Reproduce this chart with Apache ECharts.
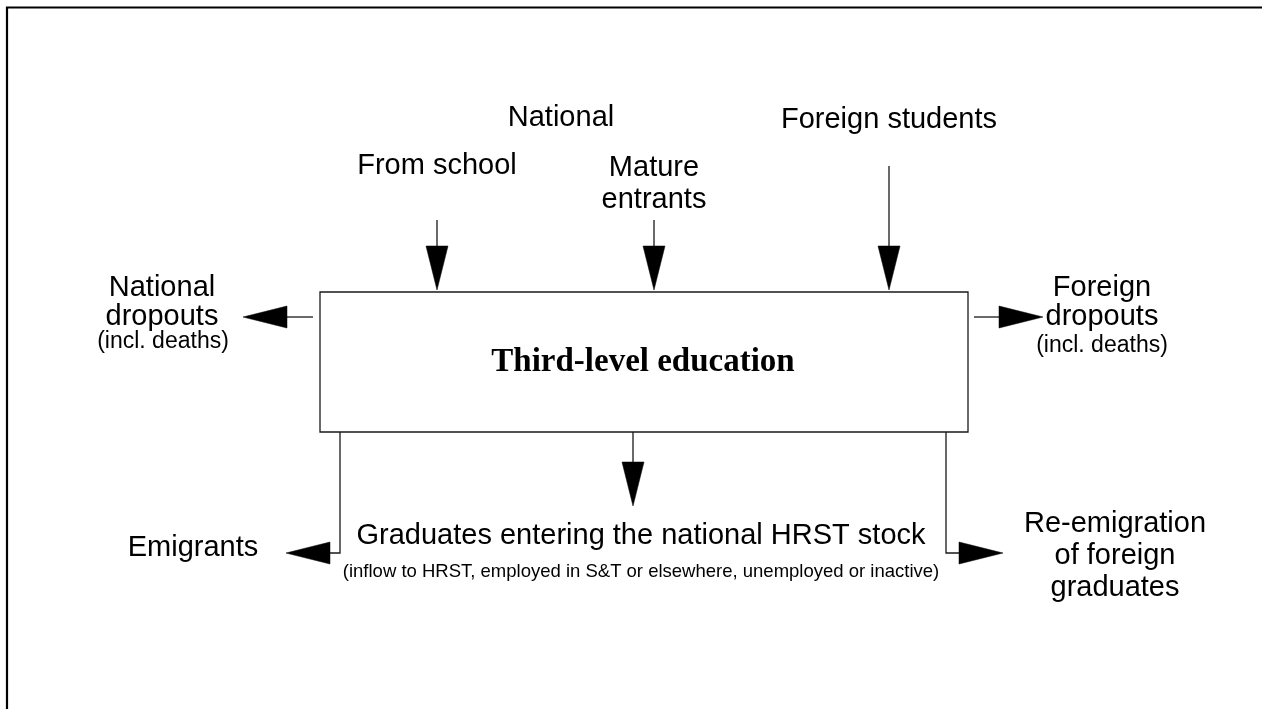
<!DOCTYPE html>
<html><head><meta charset="utf-8">
<script src="https://cdn.jsdelivr.net/npm/echarts@6/dist/echarts.min.js"></script>
<style>html,body{margin:0;padding:0;background:#fff}#c{width:1262px;height:709px}</style>
</head><body><div id="c"></div>
<script>
// ---- Diagram content ----
const boxTitle = 'Third-level education';
const inflowTexts = ['National', 'From school', 'Mature\nentrants', 'Foreign students'];
const sideTexts = ['National\ndropouts', 'Foreign\ndropouts'];
const noteTexts = ['(incl. deaths)', '(incl. deaths)'];
const outflowTexts = ['Emigrants', 'Graduates entering the national HRST stock', 'Re-emigration\nof foreign\ngraduates'];
const subNote = '(inflow to HRST, employed in S&T or elsewhere, unemployed or inactive)';

// ---- Layout in diagram units (x right, y down) ----
const inflowPos = [[561, 118], [437, 166], [654, 184], [889, 120]];
const sidePos = [[162, 302], [1102, 302]];
const notePos = [[163, 342], [1102, 346]];
const outflowPos = [[193, 548], [641, 536], [1115, 556]];
const subNotePos = [641, 572];
const boxRect = [320, 292, 968, 432];
const titlePos = [643, 362];
// arrow paths, last point is the tip
const arrowPaths = [
  [[437, 220], [437, 290]],
  [[654, 220], [654, 290]],
  [[889, 166], [889, 290]],
  [[313, 317], [243, 317]],
  [[974, 317], [1043, 317]],
  [[633, 432], [633, 506]],
  [[340, 432], [340, 553], [286, 553]],
  [[946, 432], [946, 553], [1003, 553]]
];
const framePath = [[1262, 7.5], [7, 7.5], [7, 709]];

const SANS = '"Liberation Sans", Arial, Helvetica, sans-serif';
const SERIF = '"Liberation Serif", "Times New Roman", serif';

const texts = [];
inflowTexts.forEach((t, i) => texts.push({t, p: inflowPos[i], size: 29, lh: 32, font: SANS, w: 'normal'}));
sideTexts.forEach((t, i) => texts.push({t, p: sidePos[i], size: 29, lh: 29, font: SANS, w: 'normal'}));
noteTexts.forEach((t, i) => texts.push({t, p: notePos[i], size: 23, lh: 24, font: SANS, w: 'normal'}));
outflowTexts.forEach((t, i) => texts.push({t, p: outflowPos[i], size: 29, lh: 32, font: SANS, w: 'normal'}));
texts.push({t: subNote, p: subNotePos, size: 18.5, lh: 20, font: SANS, w: 'normal'});
texts.push({t: boxTitle, p: titlePos, size: 33, lh: 34, font: SERIF, w: 'bold'});

const chart = echarts.init(document.getElementById('c'), null, {renderer: 'canvas'});

function arrowItem(params, api) {
  const pts = arrowPaths[params.dataIndex].map(p => api.coord(p));
  const n = pts.length;
  const tip = pts[n - 1], prev = pts[n - 2];
  const dx = tip[0] - prev[0], dy = tip[1] - prev[1];
  const len = Math.sqrt(dx * dx + dy * dy);
  const ux = dx / len, uy = dy / len;
  const headLen = 44, halfW = 11;
  const base = [tip[0] - ux * headLen, tip[1] - uy * headLen];
  const linePts = pts.slice(0, n - 1).concat([base]);
  return {
    type: 'group',
    children: [
      {type: 'polyline', shape: {points: linePts}, style: {stroke: '#1a1a1a', lineWidth: 1.3, fill: null}},
      {type: 'polygon', shape: {points: [tip, [base[0] - uy * halfW, base[1] + ux * halfW], [base[0] + uy * halfW, base[1] - ux * halfW]]},
        style: {fill: '#000', stroke: '#000', lineWidth: 0.5}}
    ]
  };
}

function textItem(params, api) {
  const d = texts[params.dataIndex];
  const c = api.coord(d.p);
  return {
    type: 'text',
    style: {
      text: d.t, x: c[0], y: c[1],
      font: d.w + ' ' + d.size + 'px ' + d.font,
      fontSize: d.size, fontFamily: d.font, fontWeight: d.w,
      lineHeight: d.lh,
      align: 'center', verticalAlign: 'middle',
      textAlign: 'center', textVerticalAlign: 'middle',
      fill: '#000'
    }
  };
}

chart.setOption({
  animation: false,
  backgroundColor: '#fff',
  grid: {left: 0, right: 0, top: 0, bottom: 0},
  xAxis: {type: 'value', min: 0, max: 1262, show: false},
  yAxis: {type: 'value', min: 0, max: 709, inverse: true, show: false},
  series: [
    {
      type: 'custom', name: 'frame', clip: false, silent: true,
      data: [0],
      renderItem: (params, api) => ({
        type: 'polyline', shape: {points: framePath.map(p => api.coord(p))},
        style: {stroke: '#000', lineWidth: 2.2, fill: null}
      })
    },
    {
      type: 'custom', name: 'box', clip: false, silent: true,
      data: [0],
      renderItem: (params, api) => {
        const a = api.coord([boxRect[0], boxRect[1]]);
        const b = api.coord([boxRect[2], boxRect[3]]);
        return {type: 'rect', shape: {x: a[0], y: a[1], width: b[0] - a[0], height: b[1] - a[1]},
          style: {stroke: '#1a1a1a', lineWidth: 1.3, fill: '#fff'}};
      }
    },
    {
      type: 'custom', name: 'arrows', clip: false, silent: true,
      data: arrowPaths.map((p, i) => i),
      renderItem: arrowItem
    },
    {
      type: 'custom', name: 'labels', clip: false, silent: true,
      data: texts.map((t, i) => i),
      renderItem: textItem
    }
  ]
});
</script>
</body></html>
